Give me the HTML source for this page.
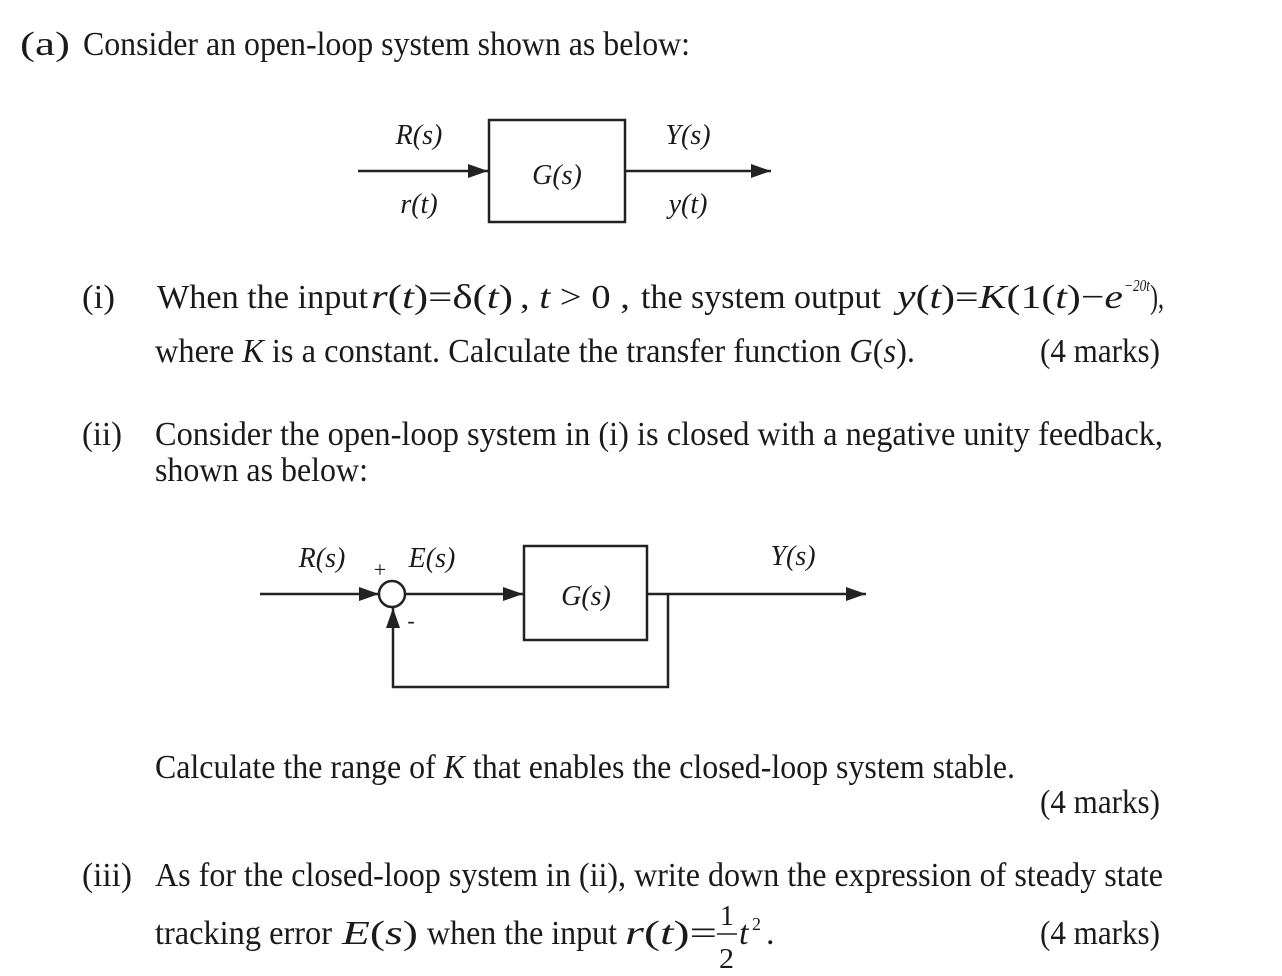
<!DOCTYPE html>
<html><head><meta charset="utf-8"><style>
html,body{margin:0;padding:0;background:#fff;}
svg{display:block;}
text{font-family:"Liberation Serif",serif;fill:#1a1a1a;}
.t{font-size:34px;}
.i{font-style:italic;}
.d{font-size:28px;font-style:italic;}
</style></head><body>
<svg width="1282" height="976" viewBox="0 0 1282 976" xmlns="http://www.w3.org/2000/svg">
<defs><marker id="ah" markerWidth="20" markerHeight="14" refX="20" refY="7" orient="auto" markerUnits="userSpaceOnUse"><path d="M0,0 L20,7 L0,14 Z" fill="#222"/></marker></defs>
<g class="t">
<text x="20" y="55" textLength="50" lengthAdjust="spacingAndGlyphs">(a)</text>
<text x="83" y="55" textLength="607" lengthAdjust="spacingAndGlyphs">Consider an open-loop system shown as below:</text>

<text x="82" y="308" textLength="33" lengthAdjust="spacingAndGlyphs">(i)</text>
<text x="157" y="308" textLength="211" lengthAdjust="spacingAndGlyphs">When the input</text>
<text x="371" y="308" textLength="142" lengthAdjust="spacingAndGlyphs"><tspan class="i">r</tspan>(<tspan class="i">t</tspan>)=δ(<tspan class="i">t</tspan>)</text>
<text x="520" y="308" textLength="110" lengthAdjust="spacingAndGlyphs">, <tspan class="i">t</tspan> &gt; 0 ,</text>
<text x="641" y="308" textLength="240" lengthAdjust="spacingAndGlyphs">the system output</text>
<text x="897" y="308" textLength="226" lengthAdjust="spacingAndGlyphs"><tspan class="i">y</tspan>(<tspan class="i">t</tspan>)=<tspan class="i">K</tspan>(1(<tspan class="i">t</tspan>)−<tspan class="i">e</tspan></text>
<text x="1124" y="291" font-size="17" class="i" textLength="26" lengthAdjust="spacingAndGlyphs">−20t</text>
<text x="1150" y="308" textLength="14" lengthAdjust="spacingAndGlyphs">),</text>

<text x="155" y="362" textLength="760" lengthAdjust="spacingAndGlyphs">where <tspan class="i">K</tspan> is a constant. Calculate the transfer function <tspan class="i">G</tspan>(<tspan class="i">s</tspan>).</text>
<text x="1040" y="362" textLength="120" lengthAdjust="spacingAndGlyphs">(4 marks)</text>

<text x="82" y="445" textLength="40" lengthAdjust="spacingAndGlyphs">(ii)</text>
<text x="155" y="445" textLength="1008" lengthAdjust="spacingAndGlyphs">Consider the open-loop system in (i) is closed with a negative unity feedback,</text>
<text x="155" y="481" textLength="213" lengthAdjust="spacingAndGlyphs">shown as below:</text>

<text x="155" y="778" textLength="860" lengthAdjust="spacingAndGlyphs">Calculate the range of <tspan class="i">K</tspan> that enables the closed-loop system stable.</text>
<text x="1040" y="813" textLength="120" lengthAdjust="spacingAndGlyphs">(4 marks)</text>

<text x="82" y="886" textLength="50" lengthAdjust="spacingAndGlyphs">(iii)</text>
<text x="155" y="886" textLength="1008" lengthAdjust="spacingAndGlyphs">As for the closed-loop system in (ii), write down the expression of steady state</text>
<text x="155" y="944" textLength="177" lengthAdjust="spacingAndGlyphs">tracking error</text>
<text x="342" y="944" textLength="76" lengthAdjust="spacingAndGlyphs"><tspan class="i">E</tspan>(<tspan class="i">s</tspan>)</text>
<text x="427" y="944" textLength="190" lengthAdjust="spacingAndGlyphs">when the input</text>
<text x="625" y="944" textLength="92" lengthAdjust="spacingAndGlyphs"><tspan class="i">r</tspan>(<tspan class="i">t</tspan>)=</text>
<text x="720" y="925" font-size="28" textLength="14" lengthAdjust="spacingAndGlyphs">1</text>
<text x="719" y="968" font-size="28" textLength="15" lengthAdjust="spacingAndGlyphs">2</text>
<text x="739" y="944" class="i">t</text>
<text x="752" y="930" font-size="18">2</text>
<text x="766" y="944">.</text>
<text x="1040" y="944" textLength="120" lengthAdjust="spacingAndGlyphs">(4 marks)</text>
</g>
<line x1="717" y1="934" x2="737" y2="934" stroke="#222" stroke-width="1.5"/>

<!-- Diagram 1 -->
<rect x="489" y="120" width="136" height="102" fill="none" stroke="#222" stroke-width="2.5"/>
<line x1="358" y1="171" x2="488" y2="171" stroke="#222" stroke-width="2.5" marker-end="url(#ah)"/>
<line x1="625" y1="171" x2="771" y2="171" stroke="#222" stroke-width="2.5" marker-end="url(#ah)"/>
<text x="419" y="144" class="d" text-anchor="middle">R(s)</text>
<text x="419" y="213" class="d" text-anchor="middle">r(t)</text>
<text x="557" y="184" class="d" text-anchor="middle">G(s)</text>
<text x="688" y="144" class="d" text-anchor="middle">Y(s)</text>
<text x="688" y="213" class="d" text-anchor="middle">y(t)</text>

<!-- Diagram 2 -->
<rect x="524" y="546" width="123" height="94" fill="none" stroke="#222" stroke-width="2.5"/>
<circle cx="392" cy="594" r="13" fill="none" stroke="#222" stroke-width="2.5"/>
<line x1="260" y1="594" x2="379" y2="594" stroke="#222" stroke-width="2.5" marker-end="url(#ah)"/>
<line x1="405" y1="594" x2="523" y2="594" stroke="#222" stroke-width="2.5" marker-end="url(#ah)"/>
<line x1="647" y1="594" x2="866" y2="594" stroke="#222" stroke-width="2.5" marker-end="url(#ah)"/>
<polyline points="668,594 668,687 393,687 393,608" fill="none" stroke="#222" stroke-width="2.5" marker-end="url(#ah)"/>
<text x="322" y="567" class="d" text-anchor="middle">R(s)</text>
<text x="380" y="577" font-size="22" text-anchor="middle">+</text>
<text x="432" y="567" class="d" text-anchor="middle">E(s)</text>
<text x="411" y="628" font-size="22" text-anchor="middle">-</text>
<text x="586" y="605" class="d" text-anchor="middle">G(s)</text>
<text x="793" y="565" class="d" text-anchor="middle">Y(s)</text>
</svg>
</body></html>
